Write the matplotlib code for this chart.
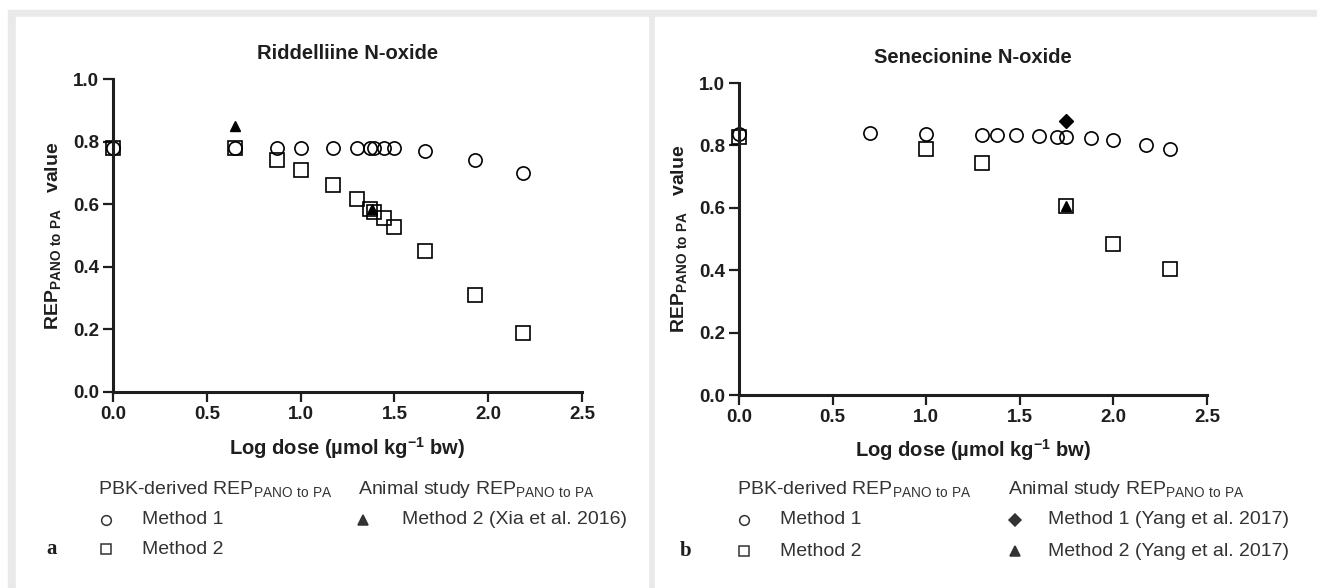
import matplotlib
matplotlib.use("Agg")
import matplotlib.pyplot as plt
from matplotlib.patches import Rectangle
from matplotlib.lines import Line2D

plt.rcParams['font.family'] = ['Liberation Sans', 'DejaVu Sans']
plt.rcParams['mathtext.fontset'] = 'custom'
plt.rcParams['mathtext.rm'] = 'Liberation Sans'
plt.rcParams['mathtext.default'] = 'regular'

# Panel a: Riddelliine N-oxide
ri_m1_x = [0.0, 0.65, 0.875, 1.0, 1.175, 1.30, 1.372, 1.39, 1.444, 1.50, 1.664, 1.928, 2.186]
ri_m1_y = [0.78, 0.78, 0.78, 0.78, 0.78, 0.78, 0.78, 0.78, 0.78, 0.78, 0.77, 0.742, 0.70]
ri_m2_x = [0.0, 0.65, 0.875, 1.0, 1.175, 1.30, 1.372, 1.39, 1.444, 1.50, 1.664, 1.928, 2.186]
ri_m2_y = [0.78, 0.78, 0.742, 0.71, 0.66, 0.617, 0.584, 0.575, 0.555, 0.527, 0.451, 0.31, 0.19]
ri_animal_m2_x = [0.65, 1.38]
ri_animal_m2_y = [0.85, 0.585]

# Panel b: Senecionine N-oxide
se_m1_x = [0.0, 0.70, 1.0, 1.30, 1.38, 1.48, 1.60, 1.70, 1.745, 1.88, 2.0, 2.176, 2.30]
se_m1_y = [0.835, 0.839, 0.837, 0.834, 0.834, 0.832, 0.829, 0.827, 0.827, 0.823, 0.816, 0.802, 0.788]
se_m2_x = [0.0, 1.0, 1.30, 1.745, 2.0, 2.30]
se_m2_y = [0.826, 0.79, 0.745, 0.605, 0.485, 0.404]
se_animal_m1_x = [1.745]
se_animal_m1_y = [0.877]
se_animal_m2_x = [1.745]
se_animal_m2_y = [0.605]

x_ticks = [0.0, 0.5, 1.0, 1.5, 2.0, 2.5]
y_ticks = [0.0, 0.2, 0.4, 0.6, 0.8, 1.0]
sub = r"$_{PANO\ to\ PA}$"

W, H = 1317, 588
fig = plt.figure(figsize=(W / 100, H / 100), dpi=100)
fig.patch.set_facecolor('white')


def fx(px):
    return px / W


def fy(py):
    return 1 - py / H


# gray frame and the two white panels
fig.patches.append(Rectangle((fx(8), fy(588)), fx(1317 - 8), (588 - 10) / H,
                             transform=fig.transFigure, color='#e9e9e9', zorder=-10))
fig.patches.append(Rectangle((fx(16), fy(587)), fx(648 - 16), (587 - 17) / H,
                             transform=fig.transFigure, color='white', zorder=-9))
fig.patches.append(Rectangle((fx(655), fy(587)), fx(1317 - 655), (587 - 17) / H,
                             transform=fig.transFigure, color='white', zorder=-9))

ink = '#1e1e1e'
ax_a = fig.add_axes([fx(113), fy(392), 469 / W, 313 / H])
ax_b = fig.add_axes([fx(739), fy(395), 468 / W, 312 / H])


def style(ax, title):
    ax.set_facecolor('none')
    ax.set_xlim(0, 2.5)
    ax.set_ylim(0, 1.0)
    ax.set_xticks(x_ticks)
    ax.set_yticks(y_ticks)
    ax.set_xticklabels([f"{t:.1f}" for t in x_ticks])
    ax.set_yticklabels([f"{t:.1f}" for t in y_ticks])
    for s in ['top', 'right']:
        ax.spines[s].set_visible(False)
    for s in ['left', 'bottom']:
        ax.spines[s].set_linewidth(2.2)
        ax.spines[s].set_color(ink)
    ax.tick_params(direction='out', length=7, width=1.6, color=ink,
                   labelsize=13.5, labelcolor=ink, pad=3)
    for lab in ax.get_xticklabels() + ax.get_yticklabels():
        lab.set_fontweight('bold')
    ax.text(0.5, 1.083, title, transform=ax.transAxes, ha='center', va='center',
            fontsize=14.5, fontweight='bold', color=ink)
    ax.text(0.5, -0.178, "Log dose (µmol kg$^{-1}$ bw)", transform=ax.transAxes,
            ha='center', va='center', fontsize=14.5, fontweight='bold', color=ink)
    ax.text(-0.128, 0.5, "REP" + sub + "   value", transform=ax.transAxes, rotation=90,
            ha='center', va='center', fontsize=14, fontweight='bold', color=ink)


style(ax_a, "Riddelliine N-oxide")
style(ax_b, "Senecionine N-oxide")

open_kw = dict(linestyle='none', markerfacecolor='none', markeredgecolor='black',
               markeredgewidth=1.2, markersize=9.5, clip_on=False)

ax_a.plot(ri_m1_x, ri_m1_y, marker='o', **open_kw)
ax_a.plot(ri_m2_x, ri_m2_y, marker='s', **open_kw)
ax_a.plot(ri_animal_m2_x, ri_animal_m2_y, marker='^', linestyle='none', color='black',
          markersize=7.5, clip_on=False)

ax_b.plot(se_m1_x, se_m1_y, marker='o', **open_kw)
ax_b.plot(se_m2_x, se_m2_y, marker='s', **open_kw)
ax_b.plot(se_animal_m1_x, se_animal_m1_y, marker='D', linestyle='none', color='black',
          markersize=7, clip_on=False)
ax_b.plot(se_animal_m2_x, se_animal_m2_y, marker='^', linestyle='none', color='black',
          markersize=7.5, clip_on=False)

# legends below each panel
leg_color = '#333333'


def key(px, py, marker, filled):
    fig.add_artist(Line2D([fx(px)], [fy(py)], transform=fig.transFigure, marker=marker,
                          linestyle='none', markersize=7 if marker != 'D' else 6.5,
                          markerfacecolor=leg_color if filled else 'none',
                          markeredgecolor=leg_color, markeredgewidth=1.1))


def label(px, py, s, **kw):
    fig.text(fx(px), fy(py), s, ha='left', va='center', fontsize=14, color=leg_color, **kw)


# panel a
label(98, 489, "PBK-derived REP" + sub)
key(106, 520, 'o', False)
label(142, 520, "Method 1")
key(106, 549, 's', False)
label(142, 549, "Method 2")
label(358, 489, "Animal study REP" + sub)
key(363, 520, '^', True)
label(402, 520, "Method 2 (Xia et al. 2016)")
fig.text(fx(52), fy(549), "a", ha='center', va='center', fontsize=15, fontweight='bold',
         family='Liberation Serif', color=ink)

# panel b
label(737, 489, "PBK-derived REP" + sub)
key(744, 520, 'o', False)
label(780, 520, "Method 1")
key(744, 551, 's', False)
label(780, 551, "Method 2")
label(1008, 489, "Animal study REP" + sub)
key(1015, 520, 'D', True)
label(1048, 520, "Method 1 (Yang et al. 2017)")
key(1015, 551, '^', True)
label(1048, 551, "Method 2 (Yang et al. 2017)")
fig.text(fx(686), fy(551), "b", ha='center', va='center', fontsize=15, fontweight='bold',
         family='Liberation Serif', color=ink)

fig.savefig("out.png", dpi=100)
